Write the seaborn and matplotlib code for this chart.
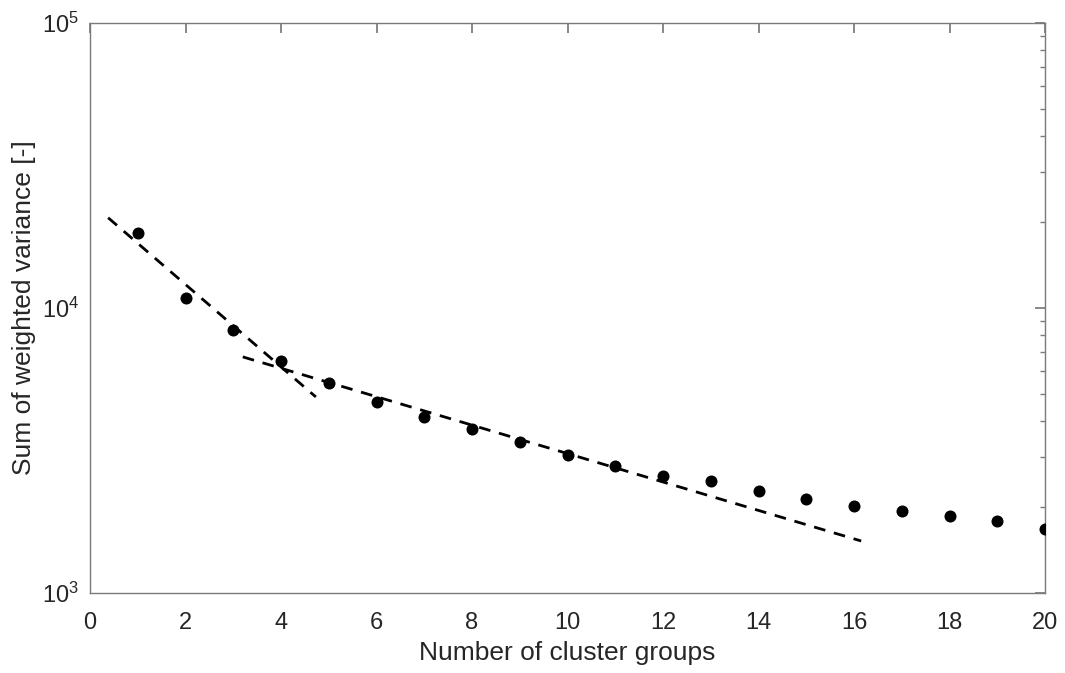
import numpy as np
import pandas as pd
import seaborn as sns
import matplotlib
matplotlib.use("Agg")
import matplotlib.pyplot as plt
from matplotlib.ticker import LogLocator, FixedLocator, NullFormatter

# Data
clusters = list(range(1, 21))
variance = [18300, 10850, 8370, 6520, 5450, 4680, 4145, 3760, 3390, 3050,
            2790, 2575, 2470, 2280, 2140, 2020, 1940, 1865, 1790, 1680]

fit1_x = [0.38, 4.73]
fit1_y = [20700, 4870]
fit2_x = [3.2, 16.15]
fit2_y = [6730, 1522]

sns.set_theme(style="white")
plt.rcParams['font.family'] = ['Liberation Sans', 'DejaVu Sans']
plt.rcParams['mathtext.fontset'] = 'custom'
plt.rcParams['mathtext.rm'] = 'Liberation Sans'
plt.rcParams['mathtext.it'] = 'Liberation Sans:italic'
plt.rcParams['mathtext.bf'] = 'Liberation Sans:bold'
axcol = '#7a7a7a'
txtcol = '#262626'

fig = plt.figure(figsize=(10.65, 6.73), dpi=100)
ax = fig.add_axes([90/1065, 1 - 593/673, (1045-90)/1065, (593-22.7)/673])

df = pd.DataFrame({"x": clusters, "y": variance})
sns.scatterplot(data=df, x="x", y="y", ax=ax, color="black", s=75,
                edgecolor="black", linewidth=0, zorder=3)

for fx, fy in [(fit1_x, fit1_y), (fit2_x, fit2_y)]:
    sns.lineplot(x=np.array(fx), y=np.array(fy), ax=ax, color="black",
                 linewidth=2.0, linestyle=(0, (4.2, 3.2)), zorder=2)

ax.set_yscale("log")
ax.set_xlim(0, 20)
ax.set_ylim(1e3, 1e5)
ax.set_xticks(range(0, 21, 2))
ax.yaxis.set_major_locator(FixedLocator([1e3, 1e4, 1e5]))
ax.set_yticklabels([r'$10^{3}$', r'$10^{4}$', r'$10^{5}$'])
ax.yaxis.set_minor_locator(LogLocator(base=10, subs=np.arange(2, 10)))
ax.yaxis.set_minor_formatter(NullFormatter())

ax.set_xlabel("Number of cluster groups", fontsize=19, color=txtcol, labelpad=5)
ax.set_ylabel("Sum of weighted variance [-]", fontsize=19, color=txtcol, labelpad=4)

for sp in ax.spines.values():
    sp.set_color(axcol)
    sp.set_linewidth(1.0)
ax.tick_params(axis='both', which='both', direction='in', top=True, right=True,
               colors=axcol, labelcolor=txtcol, labelsize=17)
ax.tick_params(axis='both', which='major', length=7)
ax.tick_params(axis='y', which='minor', length=3.6)
ax.tick_params(axis='x', pad=14)
ax.tick_params(axis='y', pad=8)
ax.grid(False)

fig.savefig("out.png", dpi=100)
